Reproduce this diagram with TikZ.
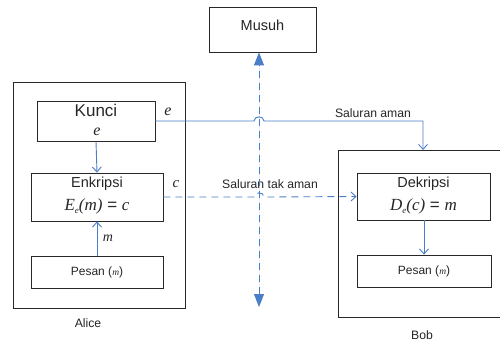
\documentclass[tikz,border=0pt]{standalone}
\usepackage{fontspec}
\setmainfont{Liberation Sans}
\newfontfamily\tms{Liberation Serif}
\usetikzlibrary{arrows.meta}
\definecolor{link}{RGB}{74,126,201}
\definecolor{frame}{RGB}{40,40,40}
\newcommand{\vr}[1]{{\tms\itshape #1}}
\newcommand{\sub}[1]{\raisebox{-0.35ex}{\fontsize{9}{9}\selectfont\tms\itshape #1}}
\begin{document}
\begin{tikzpicture}[x=1pt,y=-1pt,
  box/.style={draw=frame,line width=0.8pt,rectangle,inner sep=0pt},
  txt/.style={inner sep=0pt,text=black!85},
  solidlink/.style={draw=link,line width=0.9pt,-{Straight Barb[length=5pt,width=9pt]}},
  dashlink/.style={draw=link,line width=0.9pt,dash pattern=on 7pt off 5pt},
  bigtip/.style={{Triangle[length=13pt,width=10pt]}-{Triangle[length=13pt,width=10pt]}}]
\useasboundingbox (0,0) rectangle (500,341);
\fill[white] (0,0) rectangle (500,341);

% outer frames
\node[box,minimum width=172,minimum height=226] (alice) at (99,195) {};
\draw[frame,line width=0.8pt] (510,150) -- (338,150) -- (338,317) -- (510,317);
\coordinate (bobtop) at (423,150);

% inner boxes
\node[box,minimum width=107,minimum height=45] (musuh) at (262.5,29.5) {};
\node[txt,font=\fontsize{14.5}{16}\selectfont] (musuhT) at (262.5,25) {Musuh};

\node[box,minimum width=118,minimum height=40] (kunci) at (96,121) {};
\node[txt,font=\fontsize{17}{19}\selectfont] (kunciT) at (96,110) {Kunci};
\node[txt,font=\fontsize{16}{18}\selectfont] (kunciE) at (97,132) {\vr{e}};

\node[box,minimum width=132,minimum height=48] (enk) at (97,197) {};
\node[txt,font=\fontsize{14.5}{16}\selectfont] (enkT) at (97,184) {Enkripsi};
\node[txt,font=\fontsize{17}{19}\selectfont] (enkF) at (97,206) {\vr{E}\sub{e}\vr{(m)} = \vr{c}};

\node[box,minimum width=132,minimum height=32] (pesanA) at (97,272) {};
\node[txt,font=\fontsize{12}{14}\selectfont] (pesanAT) at (97,272) {Pesan ({\fontsize{9.5}{10}\selectfont\vr{m}})};

\node[box,minimum width=133,minimum height=47] (dek) at (423.5,196.5) {};
\node[txt,font=\fontsize{14.5}{16}\selectfont] (dekT) at (423.5,184) {Dekripsi};
\node[txt,font=\fontsize{17}{19}\selectfont] (dekF) at (423.5,206) {\vr{D}\sub{e}\vr{(c)} = \vr{m}};

\node[box,minimum width=134,minimum height=32] (pesanB) at (424,271) {};
\node[txt,font=\fontsize{12}{14}\selectfont] (pesanBT) at (424,271) {Pesan ({\fontsize{9.5}{10}\selectfont\vr{m}})};

% labels
\node[txt,font=\fontsize{16}{18}\selectfont] (lblE) at (168,112) {\vr{e}};
\node[txt,font=\fontsize{15}{17}\selectfont] (lblC) at (176,184) {\vr{c}};
\node[txt,font=\fontsize{14}{16}\selectfont] (lblM) at (108,238) {\vr{m}};
\node[txt,font=\fontsize{12.2}{14}\selectfont] (lblAman) at (373,113) {Saluran aman};
\node[txt,font=\fontsize{12.2}{14}\selectfont] (lblTak) at (270,184) {Saluran tak aman};
\node[txt,font=\fontsize{12.2}{14}\selectfont] (lblAlice) at (88,323) {Alice};
\node[txt,font=\fontsize{12.2}{14}\selectfont,anchor=south] (lblBob) at (422,339.5) {Bob};

% eavesdropper line
\coordinate (tapbot) at (259,307);
\draw[dashlink,bigtip,fill=link] (tapbot) -- (tapbot |- musuh.south);

% secure channel with line hop
\draw[solidlink] (kunci.east) -- (254,121) .. controls (254,115.5) and (264,115.5) .. (264,121)
  -- (bobtop |- kunci.east) -- (bobtop);

% insecure channel with line hop
\draw[dashlink,-{Straight Barb[length=5pt,width=9pt]}] (enk.east) -- (254,197)
  .. controls (254,191.5) and (264,191.5) .. (264,197) -- (dek.west);

% internal flows
\draw[solidlink] (kunci.south) -- (enk.north);
\draw[solidlink] (pesanA.north) -- (enk.south);
\draw[solidlink] (dek.south -| pesanB.north) -- (pesanB.north);
\end{tikzpicture}
\end{document}
